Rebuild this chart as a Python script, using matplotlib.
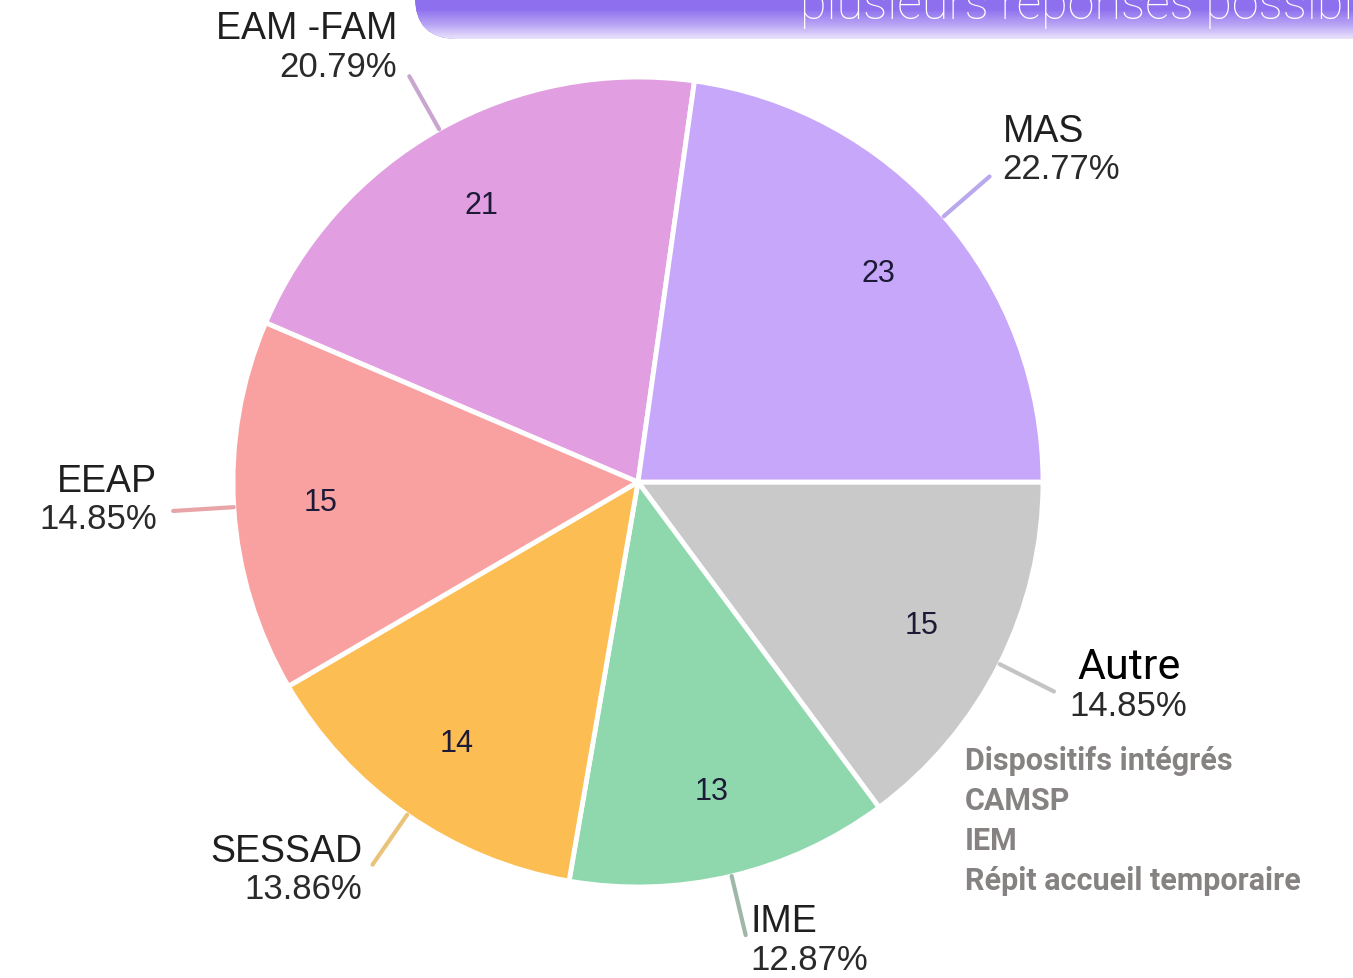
import numpy as np
import matplotlib
matplotlib.use('Agg')
import matplotlib.pyplot as plt
from matplotlib.patches import FancyBboxPatch

# data
categories = ['Autre', 'IME', 'SESSAD', 'EEAP', 'EAM -FAM', 'MAS']
counts = [15, 13, 14, 15, 21, 23]
other_items = ['Dispositifs intégrés', 'CAMSP', 'IEM', 'Répit accueil temporaire']
banner_text = 'plusieurs réponses possibles'

colors = ['#c9c9c9', '#8fd8ad', '#fcbd52', '#f9a1a1', '#e19ee0', '#c7a7fa']
leader_colors = ['#c4c4c4', '#9fb7a8', '#e9c37a', '#e8a5a8', '#c9a6cf', '#b9a8ec']
# label nudges in pixels (x, and y downwards for the percentage line)
lab_dx = [15, 5, -10, -16, -12, 13]
lab_dy = [14, 24, 24, 8, -10, -8]

W, H = 1353, 979
fig = plt.figure(figsize=(W / 100, H / 100), dpi=100)
ax = fig.add_axes([0, 0, 1, 1])
ax.set_aspect('equal')

cx, cy, R = 638, H - 483, 405
total = sum(counts)

wedges, _, autotexts = ax.pie(
    counts, colors=colors, startangle=0, counterclock=False,
    center=(cx, cy), radius=R, frame=True,
    wedgeprops=dict(edgecolor='white', linewidth=3.5),
    autopct=lambda p: f'{round(p * total / 100):d}', pctdistance=0.785,
    textprops=dict(fontsize=22, color='#1c1a36', family='Liberation Sans'))
ax.set_xlim(0, W)
ax.set_ylim(0, H)
ax.axis('off')

for i, w in enumerate(wedges):
    th = np.deg2rad((w.theta1 + w.theta2) / 2)
    x0, y0 = cx + R * np.cos(th), cy + R * np.sin(th)
    x1, y1 = cx + 1.15 * R * np.cos(th), cy + 1.15 * R * np.sin(th)
    ax.plot([x0, x1], [y0, y1], color=leader_colors[i], lw=3, solid_capstyle='round', zorder=1)
    ha = 'left' if np.cos(th) > 0 else 'right'
    tx = x1 + lab_dx[i]
    ty = y1 - lab_dy[i]
    pct = counts[i] / total * 100
    ax.text(tx, ty, f'{pct:.2f}%', ha=ha, va='center', fontsize=25,
            family='Liberation Sans', color='#2a2a2a')
    if categories[i] == 'Autre':
        ax.text(tx + 8, ty + 39, categories[i], ha=ha, va='center', fontsize=31,
                family='Roboto', color='black')
    else:
        ax.text(tx, ty + 38, categories[i], ha=ha, va='center', fontsize=27,
                family='Liberation Sans', color='#1f1f1f')

for k, item in enumerate(other_items):
    ax.text(965, H - 761 - 40 * k, item, ha='left', va='center', fontsize=22,
            family='Roboto', fontweight='bold', color='#878282')

# banner at the top
banner = FancyBboxPatch((415, H - 40), 1100, 120, boxstyle='round,pad=0,rounding_size=42',
                        facecolor='#8e70ee', edgecolor='none', zorder=3)
ax.add_patch(banner)
grad = np.linspace(0, 1, 100).reshape(-1, 1)
cmap = matplotlib.colors.LinearSegmentedColormap.from_list(
    'b', [(0, '#ece6fc'), (0.12, '#b9a5f5'), (0.25, '#8e70ee'), (1, '#8e70ee')])
img = ax.imshow(grad, cmap=cmap, extent=(415, 1515, H - 41, H + 80), origin='lower',
                aspect='auto', zorder=3)
img.set_clip_path(banner)
ax.text(800, H - 19, banner_text, ha='left', va='baseline', fontsize=35,
        family='Roboto', fontweight='light', color='white', zorder=4)
ax.set_xlim(0, W)
ax.set_ylim(0, H)

fig.savefig('out.png', dpi=100)
